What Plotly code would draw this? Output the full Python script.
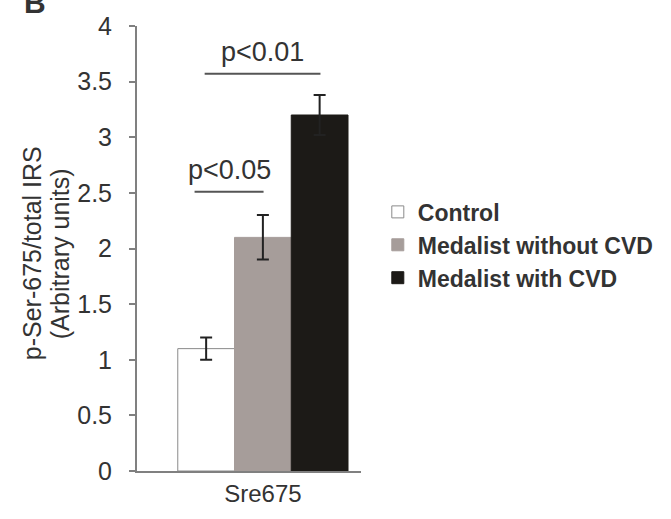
import plotly.graph_objects as go

categories = ["Sre675"]
groups = ["Control", "Medalist without CVD", "Medalist with CVD"]
values = [1.10, 2.10, 3.20]
errors = [0.10, 0.20, 0.18]
fills = ["#ffffff", "#a69d9a", "#1c1a17"]
outlines = ["#8a8a8a", "#a69d9a", "#1c1a17"]
y_ticks = [0, 0.5, 1, 1.5, 2, 2.5, 3, 3.5, 4]
tick_text = ["0", "0.5", "1", "1.5", "2", "2.5", "3", "3.5", "4"]
y_title_lines = ["p-Ser-675/total IRS", "(Arbitrary units)"]
sig_labels = ["p<0.01", "p<0.05"]
sig_x0 = [-0.26, -0.305]
sig_x1 = [0.257, 0.003]
sig_y = [3.57, 2.51]

FONT = "Liberation Sans, Arial, sans-serif"
TXT = "#333333"

fig = go.Figure()
for i, g in enumerate(groups):
    fig.add_trace(go.Bar(
        x=categories, y=[values[i]], name=g,
        marker=dict(color=fills[i], line=dict(color=outlines[i], width=1)),
        error_y=dict(type="data", array=[errors[i]], visible=True,
                     color="#222222", thickness=2, width=6),
        legendgroup=g,
    ))

for lab, x0, x1, y in zip(sig_labels, sig_x0, sig_x1, sig_y):
    fig.add_shape(type="line", xref="x", yref="y", x0=x0, x1=x1, y0=y, y1=y,
                  line=dict(color="#555555", width=2))
    fig.add_annotation(x=(x0 + x1) / 2, y=y, xref="x", yref="y", text=lab,
                       showarrow=False, yanchor="bottom", yshift=5,
                       font=dict(family=FONT, size=27, color=TXT))

# two-line rotated y-axis title
for xp, line in zip([-0.465, -0.34], y_title_lines):
    fig.add_annotation(xref="paper", yref="paper", x=xp, y=0.489, text=line,
                       textangle=-90, showarrow=False,
                       xanchor="center", yanchor="middle",
                       font=dict(family=FONT, size=25, color=TXT))

fig.add_annotation(xref="paper", yref="paper", x=-0.456, y=1.0, yshift=42,
                   text="<b>B</b>", showarrow=False, xanchor="center", yanchor="top",
                   font=dict(family=FONT, size=30, color=TXT))

fig.update_layout(
    width=671, height=519,
    margin=dict(l=137, r=306, t=19, b=48),
    paper_bgcolor="white", plot_bgcolor="white",
    barmode="group", bargap=0.24, bargroupgap=0,
    showlegend=True,
    legend=dict(x=1.075, y=0.508, xanchor="left", yanchor="middle",
                font=dict(family=FONT, size=23, color=TXT, weight="bold"),
                traceorder="grouped", tracegroupgap=0,
                itemwidth=30, bgcolor="rgba(0,0,0,0)"),
    xaxis=dict(type="category", range=[-0.562, 0.438], showline=True,
               linecolor="#808080", linewidth=2, ticks="", showgrid=False,
               tickfont=dict(family=FONT, size=24, color=TXT)),
    yaxis=dict(range=[0, 4], tickvals=y_ticks, ticktext=tick_text,
               showline=True, linecolor="#808080", linewidth=2,
               ticks="outside", ticklen=6, tickcolor="#808080", tickwidth=2,
               ticklabelstandoff=12,
               showgrid=False, zeroline=False,
               tickfont=dict(family=FONT, size=25, color=TXT)),
)

fig.write_html("out.html")
